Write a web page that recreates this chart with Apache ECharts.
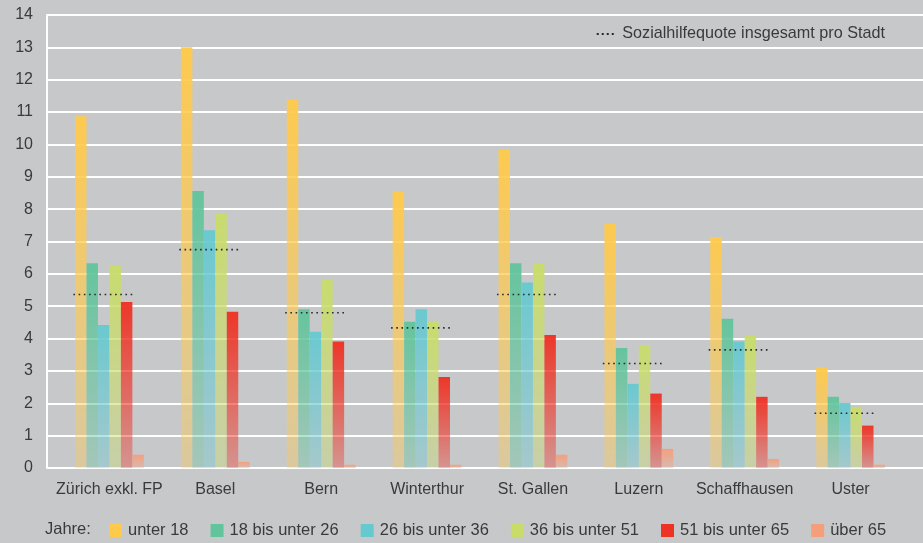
<!DOCTYPE html>
<html>
<head>
<meta charset="utf-8">
<script src="https://cdn.jsdelivr.net/npm/echarts@6/dist/echarts.min.js"></script>
<style>
  html, body { margin: 0; padding: 0; background: #c7c8ca; }
  #chart { width: 923px; height: 543px; }
</style>
</head>
<body>
<div id="chart"></div>
<script>
const cities = ['Zürich exkl. FP', 'Basel', 'Bern', 'Winterthur', 'St. Gallen', 'Luzern', 'Schaffhausen', 'Uster']
const unter18 = [10.87, 13.0, 11.38, 8.55, 9.85, 7.55, 7.14, 3.11]
const bis26 = [6.33, 8.56, 4.91, 4.52, 6.33, 3.71, 4.61, 2.2]
const bis36 = [4.42, 7.35, 4.21, 4.91, 5.73, 2.6, 3.91, 2.01]
const bis51 = [6.24, 7.86, 5.83, 4.52, 6.33, 3.8, 4.1, 1.89]
const bis65 = [5.13, 4.83, 3.91, 2.81, 4.11, 2.3, 2.2, 1.31]
const ueber65 = [0.41, 0.19, 0.1, 0.1, 0.41, 0.59, 0.28, 0.1]
const totalRate = [5.36, 6.75, 4.8, 4.33, 5.36, 3.23, 3.65, 1.69]
const yTicks = [0, 1, 2, 3, 4, 5, 6, 7, 8, 9, 10, 11, 12, 13, 14]

const AGE_SERIES = [
  { name: 'unter 18', data: unter18, color: [255, 202, 76] },
  { name: '18 bis unter 26', data: bis26, color: [98, 196, 156] },
  { name: '26 bis unter 36', data: bis36, color: [103, 201, 208] },
  { name: '36 bis unter 51', data: bis51, color: [201, 220, 106] },
  { name: '51 bis unter 65', data: bis65, color: [238, 50, 36] },
  { name: 'über 65', data: ueber65, color: [245, 158, 124] },
]
const TOTAL_NAME = 'Sozialhilfequote insgesamt pro Stadt'
const FONT = '"Liberation Sans", Arial, sans-serif'
const TEXT = '#3a3a3a'

const rgba = (c, a) => `rgba(${c[0]},${c[1]},${c[2]},${a})`

const chart = echarts.init(document.getElementById('chart'), null, { renderer: 'canvas' })

const barSeries = AGE_SERIES.map((s) => ({
  name: s.name,
  type: 'bar',
  xAxisIndex: 1,
  yAxisIndex: 1,
  barGap: '0%',
  barCategoryGap: '35%',
  emphasis: { disabled: true },
  itemStyle: {
    color: new echarts.graphic.LinearGradient(0, 0, 0, 1, [
      { offset: 0, color: rgba(s.color, 0.97) },
      { offset: 1, color: rgba(s.color, 0.35) },
    ]),
  },
  data: s.data,
}))

// dotted line per city for the overall rate
const totalSeries = {
  name: TOTAL_NAME,
  type: 'custom',
  xAxisIndex: 1,
  yAxisIndex: 1,
  z: 5,
  itemStyle: { color: '#2a2a2a' },
  data: totalRate.map((v, i) => [i, v]),
  renderItem: (params, api) => {
    const pt = api.coord([api.value(0), api.value(1)])
    const band = api.size([1, 0])[0]
    return {
      type: 'line',
      shape: { x1: pt[0] - band * 0.34, y1: pt[1], x2: pt[0] + band * 0.222, y2: pt[1] },
      style: { stroke: '#2a2a2a', lineWidth: 1.6, lineDash: [1.6, 3.6] },
    }
  },
}

const option = {
  backgroundColor: '#c7c8ca',
  animation: false,
  textStyle: { fontFamily: FONT },
  title: {
    text: 'Jahre:',
    left: 45,
    top: 521,
    padding: 0,
    textStyle: { fontFamily: FONT, fontSize: 16.5, fontWeight: 'normal', color: TEXT },
  },
  legend: [
    {
      data: AGE_SERIES.map((s) => ({ name: s.name, itemStyle: { color: rgba(s.color, 1) } })),
      left: 109,
      top: 522,
      padding: 0,
      icon: 'rect',
      itemWidth: 13,
      itemHeight: 13,
      itemGap: 22,
      textStyle: { fontFamily: FONT, fontSize: 16.5, color: TEXT, padding: [0, 0, 0, 1] },
    },
    {
      data: [{ name: TOTAL_NAME, itemStyle: { color: '#2a2a2a' } }],
      right: 38,
      top: 26,
      padding: 0,
      icon: 'path://M0,0h2v2h-2z M5,0h2v2h-2z M10,0h2v2h-2z M15,0h2v2h-2z',
      itemWidth: 18,
      itemHeight: 2,
      textStyle: { fontFamily: FONT, fontSize: 16.2, color: TEXT, padding: [0, 0, 0, 3] },
    },
  ],
  grid: [
    { left: 47, right: 0, top: 15, bottom: 75 },
    { left: 56.5, right: 19.5, top: 15, bottom: 75 },
  ],
  xAxis: [
    { gridIndex: 0, type: 'value', min: 0, max: 1, show: false },
    {
      gridIndex: 1,
      type: 'category',
      data: cities,
      axisLine: { show: false },
      axisTick: { show: false },
      axisLabel: { interval: 0, color: TEXT, fontSize: 16, margin: 14, fontFamily: FONT },
    },
  ],
  yAxis: [
    {
      gridIndex: 0,
      type: 'value',
      min: yTicks[0],
      max: yTicks[yTicks.length - 1],
      interval: 1,
      axisLine: { show: true, lineStyle: { color: '#ffffff', width: 2 } },
      axisTick: { show: false },
      splitLine: { lineStyle: { color: '#ffffff', width: 2 } },
      axisLabel: { color: TEXT, fontSize: 16, margin: 14, fontFamily: FONT },
    },
    {
      gridIndex: 1,
      type: 'value',
      min: yTicks[0],
      max: yTicks[yTicks.length - 1],
      interval: 1,
      show: false,
    },
  ],
  series: [...barSeries, totalSeries],
}

chart.setOption(option)
</script>
</body>
</html>
